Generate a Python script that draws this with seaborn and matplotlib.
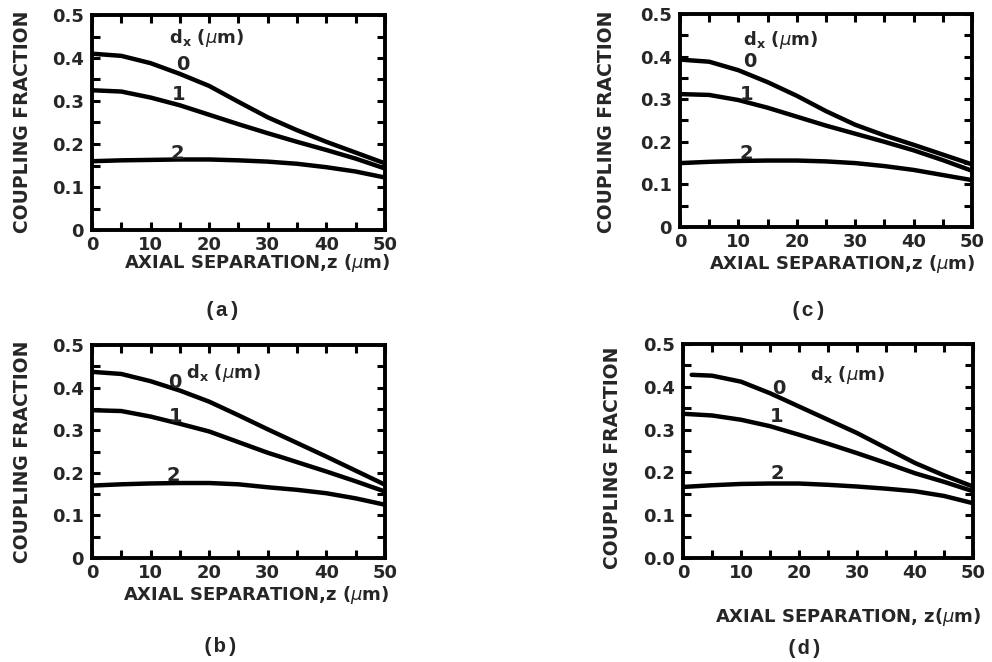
import matplotlib
matplotlib.use("Agg")
import matplotlib.pyplot as plt
from matplotlib.ticker import MultipleLocator, FixedLocator, FixedFormatter
import seaborn as sns
import pandas as pd

# ---------------- data ----------------
z = [0, 5, 10, 15, 20, 25, 30, 35, 40, 45, 50]
z_d0 = [1.5, 5, 10, 15, 20, 25, 30, 35, 40, 45, 50]

a_d0 = [0.410, 0.405, 0.388, 0.363, 0.335, 0.298, 0.262, 0.232, 0.205, 0.180, 0.155]
a_d1 = [0.325, 0.322, 0.308, 0.290, 0.268, 0.246, 0.225, 0.205, 0.186, 0.166, 0.143]
a_d2 = [0.160, 0.162, 0.163, 0.164, 0.164, 0.162, 0.159, 0.154, 0.146, 0.136, 0.122]

b_d0 = [0.437, 0.432, 0.415, 0.393, 0.367, 0.335, 0.302, 0.270, 0.238, 0.205, 0.172]
b_d1 = [0.347, 0.345, 0.332, 0.315, 0.297, 0.272, 0.247, 0.225, 0.203, 0.180, 0.156]
b_d2 = [0.170, 0.173, 0.175, 0.176, 0.176, 0.173, 0.166, 0.160, 0.152, 0.140, 0.125]

c_d0 = [0.393, 0.388, 0.368, 0.340, 0.308, 0.272, 0.240, 0.215, 0.193, 0.170, 0.147]
c_d1 = [0.312, 0.310, 0.298, 0.280, 0.259, 0.238, 0.219, 0.200, 0.180, 0.157, 0.132]
c_d2 = [0.150, 0.153, 0.155, 0.156, 0.156, 0.154, 0.150, 0.143, 0.134, 0.122, 0.110]

d_d0 = [0.428, 0.426, 0.412, 0.385, 0.354, 0.323, 0.292, 0.257, 0.222, 0.193, 0.167]
d_d1 = [0.337, 0.333, 0.323, 0.308, 0.288, 0.267, 0.245, 0.222, 0.198, 0.178, 0.156]
d_d2 = [0.166, 0.170, 0.173, 0.174, 0.174, 0.171, 0.167, 0.162, 0.156, 0.145, 0.128]

curve_names = ["0", "1", "2"]
x_ticks = [0, 10, 20, 30, 40, 50]
x_ticklabels = ["0", "10", "20", "30", "40", "50"]
y_ticks = [0, 0.1, 0.2, 0.3, 0.4, 0.5]
y_ticklabels_std = ["0", "0.1", "0.2", "0.3", "0.4", "0.5"]
y_ticklabels_d = ["0.0", "0.1", "0.2", "0.3", "0.4", "0.5"]
ylabel_text = "COUPLING FRACTION"
xlabel_a = "AXIAL SEPARATION,z ($\\mu$m)"
xlabel_d = "AXIAL SEPARATION, z($\\mu$m)"
dx_label = "d$_{\\mathbf{x}}$ ($\\mu$m)"

# ---------------- style ----------------
sns.set_style("ticks")
plt.rcParams["font.family"] = ["DejaVu Sans"]
plt.rcParams["mathtext.fontset"] = "dejavusans"

fig = plt.figure(figsize=(9.92, 6.62), dpi=100)
W, H = 992.0, 662.0


def make_df(xs0, y0, y1, y2):
    rows = []
    for name, xs, ys in zip(curve_names, [xs0, z, z], [y0, y1, y2]):
        for xv, yv in zip(xs, ys):
            rows.append({"z": xv, "frac": yv, "dx": name})
    return pd.DataFrame(rows)


panels = [
    dict(box=(92, 15, 385, 230), x0=z, data=(a_d0, a_d1, a_d2), ytl=y_ticklabels_std,
         xlab=xlabel_a, ylab_px=(22, 122), xlab_px=(257, 263), letter="(a)", let_px=(222, 310),
         ann=[(15.5, 0.385), (14.7, 0.314), (14.5, 0.179)], dxpos=(19.5, 0.447)),
    dict(box=(92, 345, 385, 558), x0=z, data=(b_d0, b_d1, b_d2), ytl=y_ticklabels_std,
         xlab=xlabel_a, ylab_px=(22, 452), xlab_px=(256, 595), letter="(b)", let_px=(220, 647),
         ann=[(14.2, 0.412), (14.2, 0.332), (13.9, 0.193)], dxpos=(22.5, 0.434)),
    dict(box=(680, 14, 972, 227), x0=z, data=(c_d0, c_d1, c_d2), ytl=y_ticklabels_std,
         xlab=xlabel_a, ylab_px=(607, 122), xlab_px=(842, 264), letter="(c)", let_px=(808, 310),
         ann=[(11.9, 0.388), (11.4, 0.310), (11.4, 0.172)], dxpos=(17.3, 0.439)),
    dict(box=(683, 344, 973, 558), x0=z_d0, data=(d_d0, d_d1, d_d2), ytl=y_ticklabels_d,
         xlab=xlabel_d, ylab_px=(612, 458), xlab_px=(848, 617), letter="(d)", let_px=(804, 649),
         ann=[(16.5, 0.397), (16.2, 0.330), (16.2, 0.198)], dxpos=(28.3, 0.428)),
]

for p in panels:
    l, t, r, b = p["box"]
    ax = fig.add_axes([l / W, 1 - b / H, (r - l) / W, (b - t) / H])
    df = make_df(p["x0"], *p["data"])
    sns.lineplot(data=df, x="z", y="frac", units="dx", estimator=None, color="black",
                 linewidth=3.2, ax=ax, legend=False)
    ax.set_xlim(0, 50)
    ax.set_ylim(0, 0.5)
    ax.xaxis.set_major_locator(FixedLocator(x_ticks))
    ax.xaxis.set_major_formatter(FixedFormatter(x_ticklabels))
    ax.yaxis.set_major_locator(FixedLocator(y_ticks))
    ax.yaxis.set_major_formatter(FixedFormatter(p["ytl"]))
    ax.xaxis.set_minor_locator(MultipleLocator(5))
    ax.yaxis.set_minor_locator(MultipleLocator(0.05))
    ax.tick_params(which="both", direction="in", top=True, right=True,
                   length=5.5, width=2.2, color="black")
    ax.tick_params(axis="x", labelsize=13, pad=4)
    ax.tick_params(axis="y", labelsize=13, pad=6)
    for lab in ax.get_xticklabels() + ax.get_yticklabels():
        lab.set_fontweight("bold")
    for s in ax.spines.values():
        s.set_linewidth(2.8)
        s.set_color("black")

    ax.set_ylabel(ylabel_text, fontsize=13.5, fontweight="bold", va="center", ha="center")
    ax.yaxis.set_label_coords((p["ylab_px"][0] - l) / (r - l), (b - p["ylab_px"][1]) / (b - t))
    ax.set_xlabel(p["xlab"], fontsize=13, fontweight="bold", va="center", ha="center")
    ax.xaxis.set_label_coords((p["xlab_px"][0] - l) / (r - l), (b - p["xlab_px"][1]) / (b - t))

    for name, (xa, ya) in zip(curve_names, p["ann"]):
        ax.text(xa, ya, name, fontsize=14, fontweight="bold", ha="center", va="center")
    ax.text(p["dxpos"][0], p["dxpos"][1], dx_label, fontsize=13, fontweight="bold",
            ha="center", va="center")

    fig.text(p["let_px"][0] / W, 1 - p["let_px"][1] / H, p["letter"],
             fontsize=15, fontweight="bold", family=["Liberation Mono", "DejaVu Sans Mono"],
             ha="center", va="center")

fig.savefig("out.png", dpi=100, facecolor="white")
